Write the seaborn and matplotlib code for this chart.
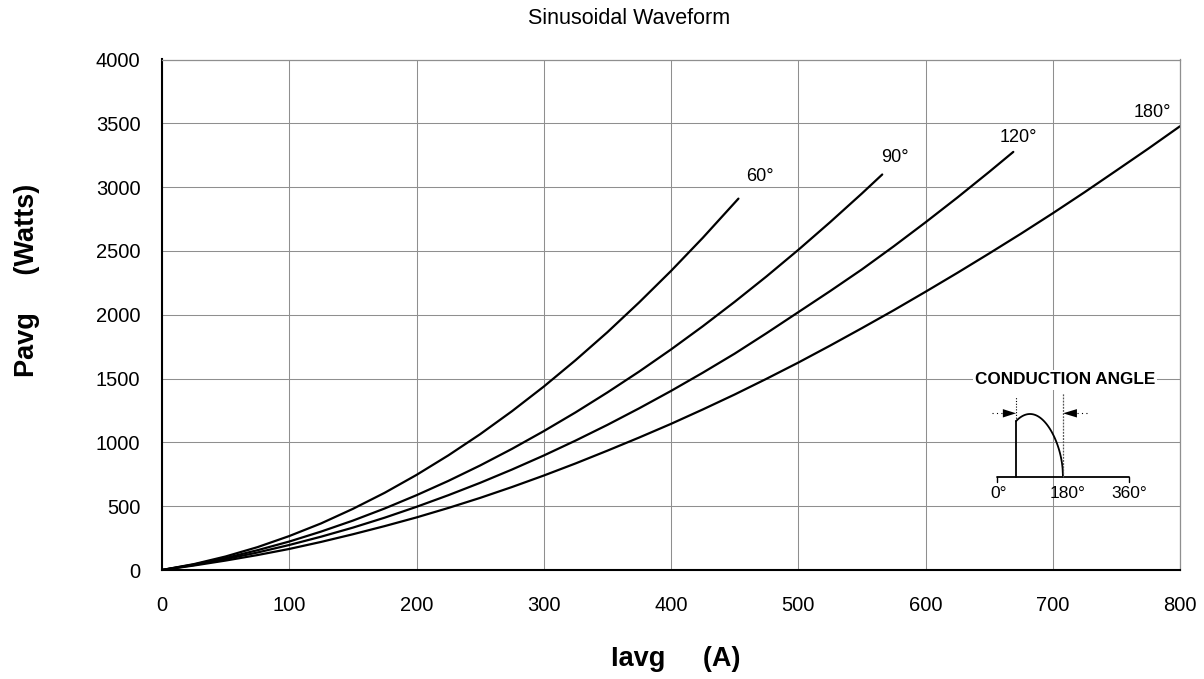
import numpy as np
import pandas as pd
import matplotlib
matplotlib.use("Agg")
import matplotlib.pyplot as plt
import seaborn as sns

# curve data (Iavg in A, Pavg in W)
angles = ["60°", "90°", "120°", "180°"]

i_60 = [0, 25, 50, 75, 100, 125, 150, 175, 200, 225, 250, 275, 300, 325, 350, 375, 400, 425, 453]
p_60 = [0, 46, 106, 179, 266, 365, 479, 605, 745, 898, 1064, 1244, 1437, 1644, 1863, 2097, 2343, 2603, 2910]

i_90 = [0, 25, 50, 75, 100, 125, 150, 175, 200, 225, 250, 275, 300, 325, 350, 375, 400, 425,
        450, 475, 500, 525, 550, 566]
p_90 = [0, 43, 94, 155, 223, 301, 387, 482, 586, 698, 819, 949, 1088, 1235, 1391, 1555, 1728, 1910,
        2101, 2300, 2508, 2725, 2950, 3099]

i_120 = [0, 25, 50, 75, 100, 125, 150, 175, 200, 225, 250, 275, 300, 325, 350, 375, 400, 425,
         450, 475, 500, 525, 550, 575, 600, 625, 650, 669]
p_120 = [0, 39, 85, 137, 196, 261, 332, 410, 495, 586, 683, 787, 897, 1014, 1137, 1267, 1403, 1546,
         1695, 1855, 2020, 2185, 2355, 2536, 2724, 2918, 3119, 3276]

i_180 = [0, 25, 50, 75, 100, 125, 150, 175, 200, 225, 250, 275, 300, 325, 350, 375, 400, 425,
         450, 475, 500, 525, 550, 575, 600, 625, 650, 675, 700, 725, 750, 775, 800]
p_180 = [0, 35, 74, 117, 165, 220, 280, 344, 412, 486, 565, 650, 740, 835, 935, 1038, 1145, 1258,
         1375, 1498, 1625, 1758, 1895, 2035, 2180, 2328, 2480, 2635, 2795, 2960, 3130, 3301, 3477]

x_ticks = [0, 100, 200, 300, 400, 500, 600, 700, 800]
y_ticks = [0, 500, 1000, 1500, 2000, 2500, 3000, 3500, 4000]

frames = []
for name, xs, ys in zip(angles, [i_60, i_90, i_120, i_180], [p_60, p_90, p_120, p_180]):
    frames.append(pd.DataFrame({"Iavg": xs, "Pavg": ys, "angle": name}))
df = pd.concat(frames, ignore_index=True)

sns.set_style("white")
plt.rcParams["font.family"] = ["Liberation Sans", "DejaVu Sans"]
plt.rcParams["text.color"] = "black"
plt.rcParams["axes.labelcolor"] = "black"

W, H = 1204, 679
fig = plt.figure(figsize=(W / 100, H / 100), dpi=100)

def fx(px):
    return px / W

def fy(py):
    return 1 - py / H

ax = fig.add_axes([fx(162), fy(570), fx(1180) - fx(162), fy(59.5) - fy(570)])

grid_col = "#8f8f8f"
for name in angles:
    sub = df[df["angle"] == name]
    sns.lineplot(data=sub, x="Iavg", y="Pavg", color="black", lw=1.6, ax=ax, sort=False)

ax.set_xlim(0, 800)
ax.set_ylim(0, 4000)
ax.set_xticks(x_ticks)
ax.set_yticks(y_ticks)
ax.grid(True, color=grid_col, lw=0.75)
ax.set_axisbelow(True)
ax.set_xlabel("")
ax.set_ylabel("")
ax.tick_params(axis="both", labelsize=14.5, colors=grid_col, labelcolor="black",
               length=5.5, width=0.8, direction="out")
ax.tick_params(axis="x", pad=13)
ax.tick_params(axis="y", pad=10)
for side in ["left", "bottom"]:
    ax.spines[side].set_color("black")
    ax.spines[side].set_linewidth(1.5)
for side in ["top", "right"]:
    ax.spines[side].set_visible(True)
    ax.spines[side].set_color(grid_col)
    ax.spines[side].set_linewidth(0.9)

# curve end labels
label_pos = {"60°": (470, 3086), "90°": (576, 3234), "120°": (673, 3391), "180°": (778, 3588)}
for name in angles:
    x, y = label_pos[name]
    ax.text(x, y, name, fontsize=13, ha="center", va="center", color="black")

fig.text(fx(629), fy(19), "Sinusoidal Waveform", fontsize=15.5, ha="center", va="center")
fig.text(fx(27), fy(280), "Pavg     (Watts)", fontsize=19.5, fontweight="bold",
         rotation=90, ha="center", va="center")
fig.text(fx(676), fy(666), "Iavg     (A)", fontsize=19.5, fontweight="bold",
         ha="center", va="baseline")

# conduction angle sketch
fig.text(fx(1065), fy(380), "CONDUCTION ANGLE", fontsize=12.3, fontweight="bold",
         ha="center", va="center",
         bbox=dict(facecolor="white", edgecolor="none", pad=1.5))

ix0, ix1, iy0, iy1 = 975, 1145, 388, 505
ins = fig.add_axes([fx(ix0), fy(iy1), fx(ix1) - fx(ix0), fy(iy0) - fy(iy1)])
ins.set_axis_off()
ins.patch.set_alpha(0)
deg_px = 132 / 360
ins.set_xlim((ix0 - 997) / deg_px, (ix1 - 997) / deg_px)
ins.set_ylim(477 - iy1, 477 - iy0)

alpha = 52
th = np.linspace(alpha, 180, 120)
amp = 63 * np.sqrt(np.sin(np.radians(th)))
ins.plot([0, 360], [0, 0], color="black", lw=1.3)
ins.plot([0, 0], [0, -5], color="black", lw=1.0)
ins.plot([360, 360], [0, -5], color="black", lw=1.0)
ins.plot([alpha, alpha], [0, amp[0]], color="black", lw=1.3)
ins.plot(th, amp, color="black", lw=1.3)
ins.plot([alpha, alpha], [amp[0], 80], color="black", lw=0.8, ls=(0, (1, 1.5)))
ins.plot([180, 180], [0, 84], color="#555555", lw=0.9, ls=(0, (1.5, 1)))
ya = 63.7
ins.plot([-14, 16], [ya, ya], color="black", lw=0.8, ls=(0, (1, 3)))
ins.fill([16, alpha, 16], [ya + 4.2, ya, ya - 4.2], color="black", lw=0)
ins.fill([218, 180, 218], [ya + 4.2, ya, ya - 4.2], color="black", lw=0)
ins.plot([218, 254], [ya, ya], color="black", lw=0.8, ls=(0, (1, 3)))
for deg, lab in [(4, "0°"), (192, "180°"), (360, "360°")]:
    ins.text(deg, -17, lab, fontsize=12.5, ha="center", va="center", color="black")

fig.savefig("out.png", dpi=100)
